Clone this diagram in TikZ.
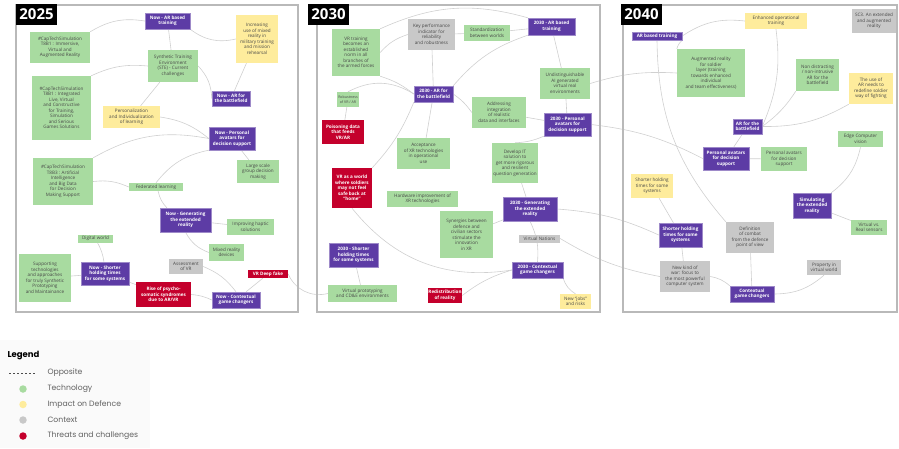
\documentclass[tikz,border=0pt]{standalone}
\usepackage{fontspec}
\setmainfont{Open Sans}
\newfontfamily\legendfont{Poppins}
\usetikzlibrary{backgrounds}
\definecolor{techgreen}{RGB}{168,219,160}
\definecolor{impactyellow}{RGB}{254,236,156}
\definecolor{contextgray}{RGB}{200,200,200}
\definecolor{threatred}{RGB}{196,0,44}
\definecolor{nowpurple}{RGB}{93,60,165}
\definecolor{linkgray}{RGB}{208,208,208}
\definecolor{framegray}{RGB}{185,185,185}
\definecolor{textgray}{RGB}{70,70,70}

\begin{document}
\begin{tikzpicture}[x=1pt,y=-1pt,
  card/.style={align=center,inner sep=0.5pt,font=\fontsize{4.6}{5.5}\selectfont},
  tech/.style={card,fill=techgreen,text=textgray},
  impact/.style={card,fill=impactyellow,text=textgray},
  context/.style={card,fill=contextgray,text=textgray},
  threat/.style={card,fill=threatred,text=white,font=\fontsize{4.6}{5.5}\selectfont\bfseries},
  topic/.style={card,fill=nowpurple,draw=nowpurple!60!white,line width=0.4pt,text=white,font=\fontsize{4.6}{5.5}\selectfont\bfseries},
  sz/.style 2 args={minimum width=#1,minimum height=#2},
  link/.style={draw=linkgray,line width=0.6pt},
  frame/.style={draw=framegray,line width=1.3pt},
  year/.style={fill=black,text=white,font=\fontsize{15}{15}\selectfont\bfseries,minimum width=41,minimum height=21,inner sep=0pt},
  legtext/.style={anchor=west,text=black!62,font=\legendfont\fontsize{7.7}{7.7}\selectfont},
  legdot/.style={circle,inner sep=0pt,minimum size=7.5}]
\useasboundingbox (0,0) rectangle (899,448);

% frames
\draw[frame] (16,5) rectangle (298,312);
\draw[frame] (317,5) rectangle (600,312);
\draw[frame] (623,5) rectangle (897,312);
\node[year] (y2025) at (36.5,14.5) {2025};
\node[year] (y2030) at (328.5,14.5) {2030};
\node[year] (y2040) at (641.5,14.5) {2040};

% 2025
\node[tech,sz={60}{31}] (capA) at (60,47.5) {\#CapTechSimulation\\T8B1 : Immersive,\\Virtual and\\Augmented Reality};
\node[tech,sz={59}{64}] (capB) at (61.5,108) {\#CapTechSimulation\\T8B1 : Integrated\\Live, Virtual\\and Constructive\\for Training,\\Simulation\\and Serious\\Games Solutions};
\node[impact,sz={57}{22}] (persL) at (131.5,117) {Personalization\\and Individualization\\of learning};
\node[topic,sz={45}{16}] (nowARtr) at (167.5,21) {Now - AR based\\training};
\node[impact,sz={42}{48}] (incMR) at (257,39) {Increasing\\use of mixed\\reality in\\military training\\and mission\\rehearsal};
\node[tech,sz={50}{32}] (ste) at (173,66) {Synthetic Training\\Environment\\(STE) - Current\\challenges};
\node[topic,sz={38}{15}] (nowARbf) at (231,98.5) {Now - AR for\\the battlefield};
\node[topic,sz={46}{23}] (nowAv) at (232,138.5) {Now - Personal\\avatars for\\decision support};
\node[tech,sz={60}{47}] (capC) at (63,181.5) {\#CapTechSimulation\\T8B3 : Artificial\\Intelligence\\and Big Data\\for Decision\\Making Support};
\node[tech,sz={54}{8}] (fedL) at (156,187) {Federated learning};
\node[tech,sz={42}{23}] (largeS) at (258,171.5) {Large scale\\group decision\\making};
\node[topic,sz={51}{24}] (nowGen) at (185.5,220) {Now - Generating\\the extended\\reality};
\node[tech,sz={47}{16}] (haptic) at (250.5,227) {Improving haptic\\solutions};
\node[tech,sz={35}{17}] (mixedD) at (226.5,252.5) {Mixed reality\\devices};
\node[context,sz={34}{15}] (assVR) at (186,266.5) {Assessment\\of VR};
\node[threat,sz={40}{8}] (deepF) at (268,274) {VR Deep fake};
\node[threat,sz={55}{25}] (psycho) at (163.5,294.5) {Rise of psycho-\\somatic syndromes\\due to AR/VR};
\node[topic,sz={48}{16}] (nowCtx) at (236,300) {Now - Contextual\\game changers};
\node[tech,sz={35}{8}] (digW) at (95.5,238.5) {Digital world};
\node[tech,sz={52}{48}] (suppT) at (45,278) {Supporting\\technologies\\and approaches\\for truly Synthetic\\Prototyping\\and Maintainance};
\node[topic,sz={48}{23}] (nowShort) at (105,273.5) {Now - Shorter\\holding times\\for some systems};

% 2030
\node[tech,sz={48}{47}] (vrNorm) at (356,52.5) {VR training\\becomes an\\established\\norm in all\\branches of\\the armed forces};
\node[context,sz={47}{31}] (kpi) at (431.5,34.5) {Key performance\\indicator for\\reliability\\and robustness};
\node[tech,sz={22}{15},font=\fontsize{3.6}{4.4}\selectfont] (robust) at (348,99.5) {Robustness\\of VR / AR};
\node[topic,sz={39}{16}] (ar30bf) at (433.5,94) {2030 - AR for\\the battlefield};
\node[threat,sz={42}{24}] (poison) at (343,132) {Poisoning data\\that feeds\\VR/AR};
\node[tech,sz={53}{31}] (accept) at (423.5,153.5) {Acceptance\\of XR technologies\\in operational\\use};
\node[tech,sz={46}{16}] (stdW) at (487,33) {Standardization\\between worlds};
\node[topic,sz={47}{17}] (ar30tr) at (551.5,26.5) {2030 - AR based\\training};
\node[tech,sz={50}{31}] (undist) at (565,83.5) {Undistinguishable\\AI generated\\virtual real\\environments};
\node[tech,sz={54}{31}] (addr) at (499,112.5) {Addressing\\integration\\of realistic\\data and interfaces};
\node[topic,sz={47}{23}] (av30) at (567.5,124.5) {2030 - Personal\\avatars for\\decision support};
\node[tech,sz={46}{40}] (develop) at (515,163) {Develop IT\\solution to\\get more rigorous\\and resilient\\question generation};
\node[threat,sz={40}{40}] (vrHome) at (352,188) {VR as a world\\where soldiers\\may not feel\\safe back at\\``home''};
\node[tech,sz={71}{16}] (hw) at (422.5,199) {Hardware improvement of\\XR technologies};
\node[tech,sz={53}{47}] (synerg) at (466.5,234.5) {Synergies between\\defence and\\civilian sectors\\stimulate the\\innovation\\in XR};
\node[topic,sz={49}{24}] (sh30) at (353.5,255) {2030 - Shorter\\holding times\\for some systems};
\node[tech,sz={69}{17}] (virtProto) at (362.5,293.5) {Virtual prototyping\\and CD\&E environments};
\node[threat,sz={34}{15}] (redist) at (445,295.5) {Redistribution\\of reality};
\node[topic,sz={54}{24}] (gen30) at (530,209) {2030 - Generating\\the extended\\reality};
\node[context,sz={41}{8}] (vNat) at (539.5,238.5) {Virtual Nations};
\node[topic,sz={51}{16}] (ctx30) at (537.5,270) {2030 - Contextual\\game changers};
\node[impact,sz={31}{15}] (newJobs) at (575.5,301.5) {New ``jobs''\\and risks};

% 2040
\node[topic,sz={50}{8}] (ar40tr) at (657,36) {AR based training};
\node[tech,sz={68}{48}] (augSol) at (711,73) {Augmented reality\\for soldier\\layer (training\\towards enhanced\\individual\\and team effectiveness)};
\node[impact,sz={62}{16}] (enhOp) at (776,21) {Enhanced operational\\training};
\node[context,sz={44}{24}] (sc3) at (874,21) {SC3. An extended\\and augmented\\reality};
\node[tech,sz={43}{32}] (nonDis) at (817.5,75) {Non distracting\\/ non-intrusive\\AR for the\\battlefield};
\node[impact,sz={44}{31}] (useAR) at (871,88.5) {The use of\\AR needs to\\redefine soldier\\way of fighting};
\node[topic,sz={29}{15}] (ar40bf) at (747.5,126.5) {AR for the\\battlefield};
\node[topic,sz={46}{23}] (av40) at (726,158.5) {Personal avatars\\for decision\\support};
\node[tech,sz={46}{24}] (avG) at (784,159) {Personal avatars\\for decision\\support};
\node[tech,sz={45}{16}] (edgeCV) at (860.5,139) {Edge Computer\\vision};
\node[impact,sz={42}{24}] (shortY) at (652,186) {Shorter holding\\times for some\\systems};
\node[topic,sz={43}{24}] (short40) at (680.5,235) {Shorter holding\\times for some\\systems};
\node[context,sz={48}{31}] (defComb) at (750,237.5) {Definition\\of combat\\from the defence\\point of view};
\node[topic,sz={38}{25}] (sim40) at (812,205.5) {Simulating\\the extended\\reality};
\node[tech,sz={36}{15}] (vsReal) at (869,227.5) {Virtual vs.\\Real sensors};
\node[context,sz={50}{31}] (newKind) at (685,276.5) {New kind of\\war: focus to\\the most powerful\\computer system};
\node[context,sz={34}{15}] (prop) at (824,267.5) {Property in\\virtual world};
\node[topic,sz={44}{16}] (ctx40) at (752,294) {Contextual\\game changers};

% links
\begin{scope}[on background layer]
\draw[link] (capA.north east) to[bend left=20] (nowARtr.west);
\draw[link] (capB.north east) to[bend left=15] (ste.west);
\draw[link] (nowARtr.south east) to[bend right=25] (incMR.west);
\draw[link] (nowARtr) -- (ste);
\draw[link] (incMR) -- (nowARbf);
\draw[link] (ste.east) to[bend left=20] (nowARbf.west);
\draw[link] (persL) -- (ste);
\draw[link] (persL.east) to[bend left=15] (nowAv.west);
\draw[link] (capC.north east) to[bend left=20] (nowAv.west);
\draw[link] (nowAv) -- (largeS);
\draw[link] (nowAv.south west) to[bend right=20] (fedL.north);
\draw[link] (capC.east) to[bend left=15] (fedL.west);
\draw[link] (fedL) to[bend right=15] (nowGen);
\draw[link] (nowGen) -- (haptic);
\draw[link] (nowGen.south) to[bend right=20] (mixedD.west);
\draw[link] (assVR.east) to[bend left=15] (nowCtx.north);
\draw[link] (deepF) -- (nowCtx);
\draw[link] (psycho.east) to[bend left=10] (nowCtx.west);
\draw[link] (nowShort) -- (psycho);
\draw[link] (suppT) -- (nowShort);
\draw[link] (digW) to[bend left=10] (nowShort);
\draw[link] (deepF.east) to[bend right=40] (virtProto.west);
% 2030
\draw[link] (vrNorm.east) to[bend left=15] (kpi.west);
\draw[link] (vrNorm.south east) to[bend left=10] (ar30bf.west);
\draw[link] (robust.north) to[bend left=30] (ar30bf.west);
\draw[link] (poison) -- (robust);
\draw[link] (kpi) -- (ar30bf);
\draw[link] (kpi) -- (stdW);
\draw[link] (stdW) -- (ar30tr);
\draw[link] (ar30tr) -- (undist);
\draw[link] (undist) -- (av30);
\draw[link] (addr) -- (av30);
\draw[link] (ar30bf.east) to[bend left=10] (addr.west);
\draw[link] (ar30bf) -- (accept);
\draw[link] (develop) -- (gen30);
\draw[link] (synerg) -- (gen30);
\draw[link] (gen30.south) to[bend left=15] (ctx30.north);
\draw[link] (ctx30.south east) to[bend right=20] (newJobs.north);
\draw[link] (ctx30.west) to[bend right=10] (redist.east);
\draw[link] (sh30) -- (virtProto);
\draw[link] (vrNorm.north east) to[bend left=20] (ar30tr.north west);
\draw[link] (ar30bf.north east) to[bend left=15] (ar30tr.south west);
\draw[link] (av30.south west) to[bend left=10] (develop.north);
\draw[link] (vrHome.north east) to[bend right=10] (ar30bf.south west);
\draw[link] (vrHome.south) to[bend right=30] (ctx30.west);
\draw[link] (gen30.east) to[bend left=10] (short40.west);
\draw[link] (vNat.east) to[bend right=10] (newKind.west);
\draw[link] (undist.east) to[bend left=10] (augSol.west);
\draw[link] (av30.east) to[bend left=10] (av40.west);
% 2040
\draw[link] (ar40tr.south east) to[bend right=15] (augSol.north west);
\draw[link] (ar40tr.east) to[bend left=20] (enhOp.west);
\draw[link] (ar40tr.south) to[bend right=20] (defComb.north west);
\draw[link] (enhOp.south) to[bend left=15] (ar40bf.east);
\draw[link] (nonDis.south west) to[bend left=10] (ar40bf.east);
\draw[link] (useAR.south west) to[bend left=15] (ar40bf.east);
\draw[link] (ar40bf) -- (av40);
\draw[link] (av40) -- (avG);
\draw[link] (edgeCV.south) to[bend left=20] (sim40.north east);
\draw[link] (sim40) -- (vsReal);
\draw[link] (shortY) -- (short40);
\draw[link] (short40) -- (newKind);
\draw[link] (newKind.east) to[bend left=15] (ctx40.north west);
\draw[link] (defComb) -- (ctx40);
\draw[link] (prop.south) to[bend left=20] (ctx40.east);
\end{scope}

% legend
\fill[black!2] (0,340) rectangle (150,448);
\node[anchor=west,font=\legendfont\fontsize{8.5}{8.5}\selectfont\bfseries] (legTitle) at (4,356) {Legend};
\coordinate (oppA) at (9,373);
\coordinate (oppB) at (36,373);
\draw[black!70,line width=0.8pt,dash pattern=on 2pt off 2pt] (oppA) -- (oppB);
\node[legtext] (legOpp) at (44,373) {Opposite};
\node[legdot,fill=techgreen] (dotTech) at (23,389) {};
\node[legtext] (legTech) at (44,389) {Technology};
\node[legdot,fill=impactyellow] (dotImp) at (23,404.5) {};
\node[legtext] (legImp) at (44,404.5) {Impact on Defence};
\node[legdot,fill=contextgray] (dotCtx) at (23,420) {};
\node[legtext] (legCtx) at (44,420) {Context};
\node[legdot,fill=threatred] (dotThr) at (23,436) {};
\node[legtext] (legThr) at (44,436) {Threats and challenges};
\end{tikzpicture}
\end{document}
